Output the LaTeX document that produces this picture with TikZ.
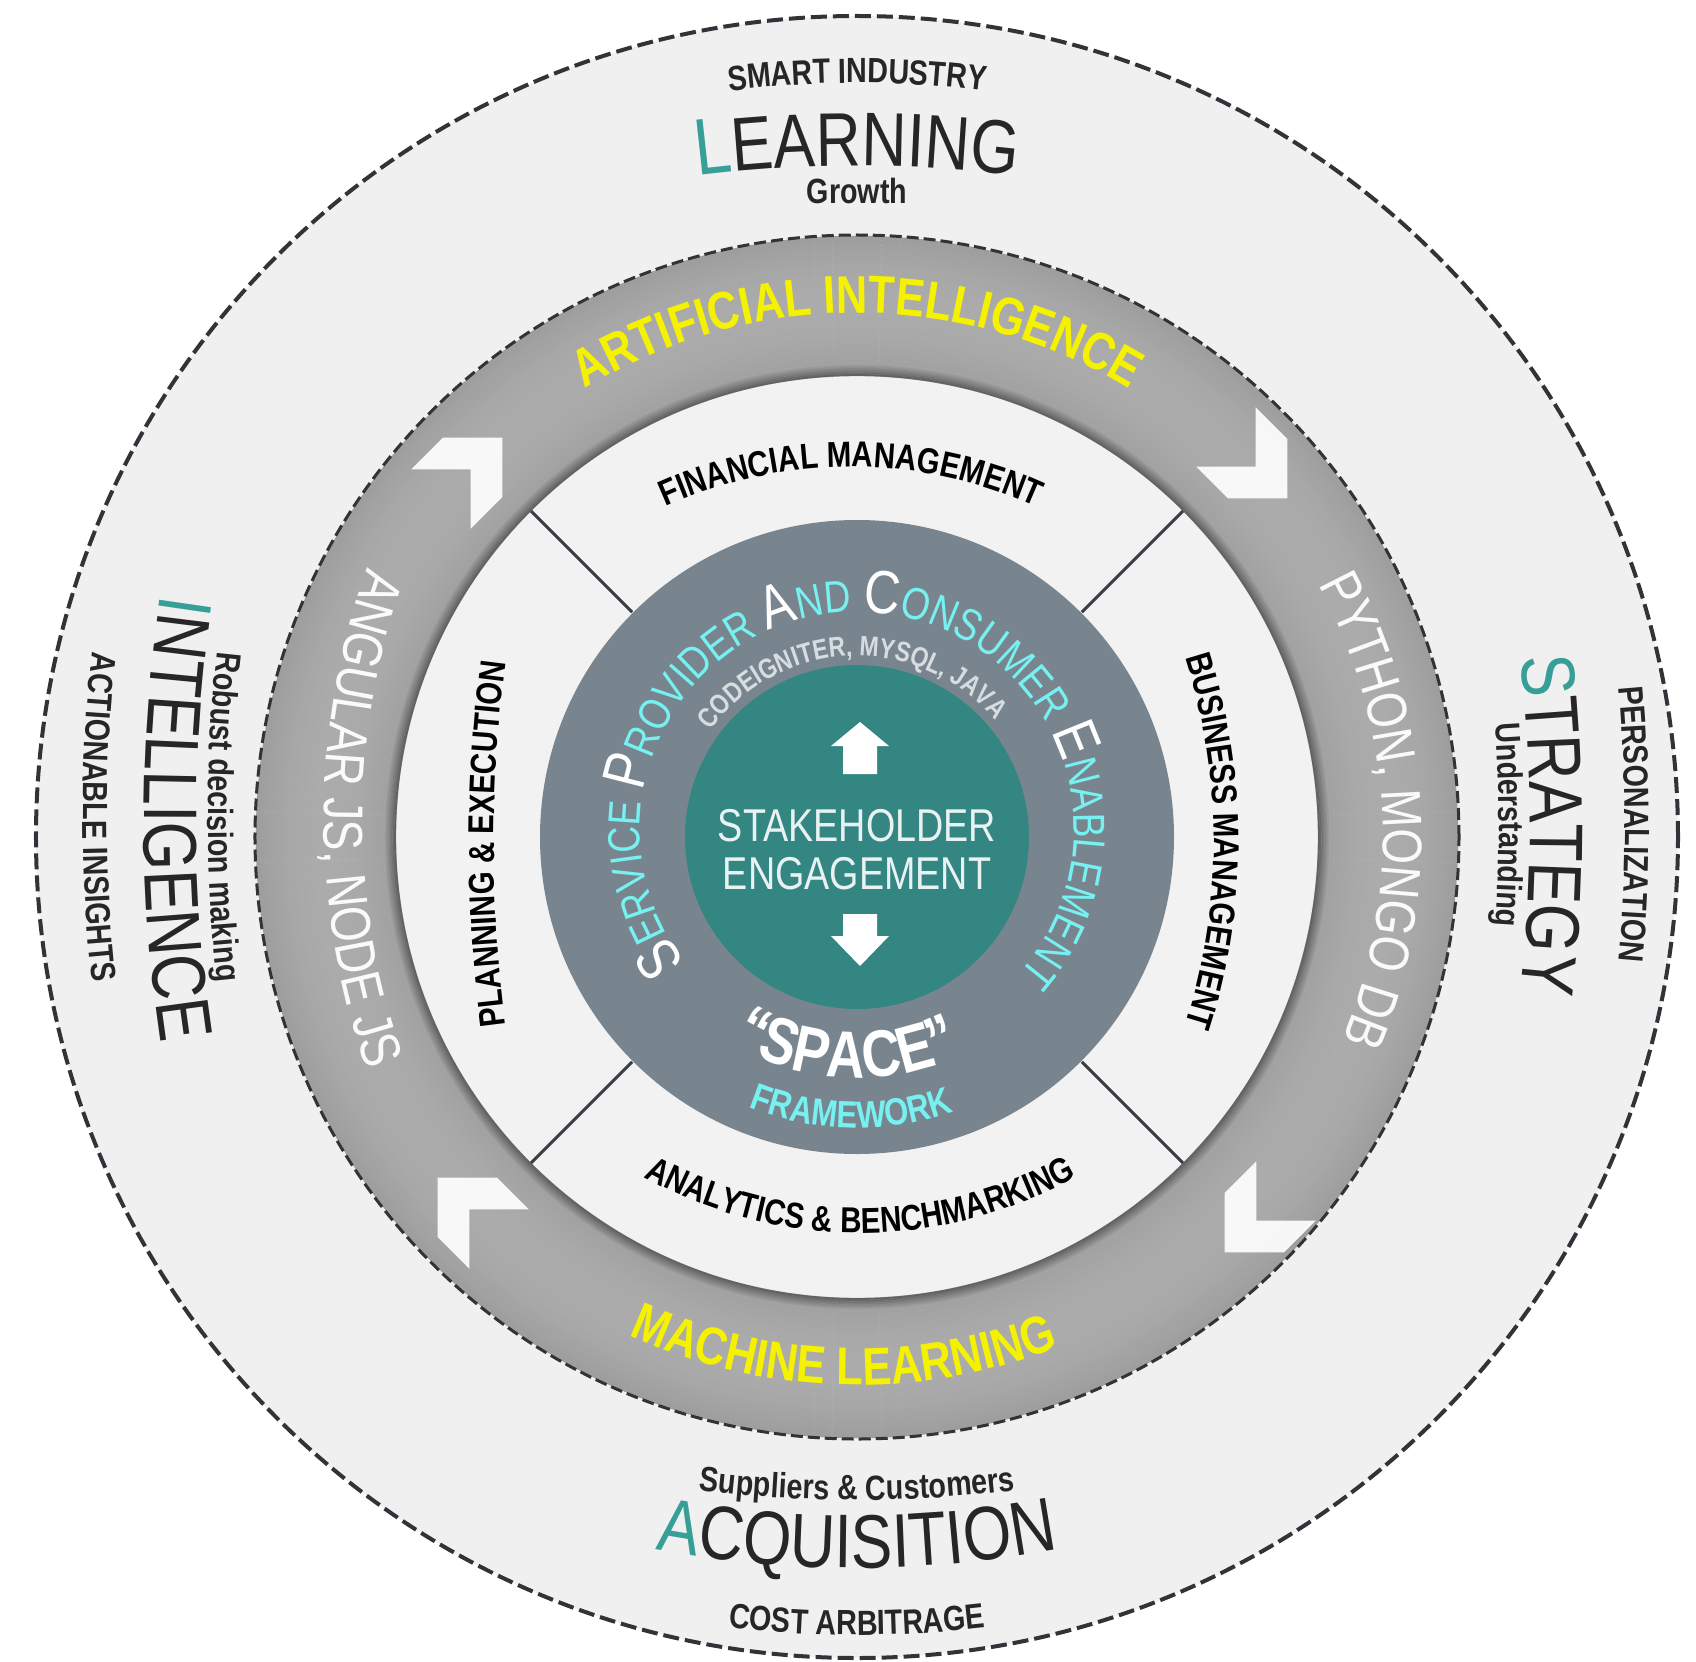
\documentclass[tikz,border=0pt]{standalone}
\usepackage{fontspec}
\setmainfont{Liberation Sans}
\newfontfamily\nsf[FakeStretch=0.82]{Liberation Sans}
\usetikzlibrary{decorations.text}
\definecolor{bgband}{RGB}{240,240,240}
\definecolor{whiteband}{RGB}{242,242,242}
\definecolor{dashc}{RGB}{48,52,56}
\definecolor{linec}{RGB}{58,62,68}
\definecolor{slate}{RGB}{121,133,142}
\definecolor{tealc}{RGB}{52,134,131}
\definecolor{tealL}{RGB}{55,158,152}
\definecolor{cyanT}{RGB}{118,240,240}
\definecolor{yel}{RGB}{245,242,0}
\definecolor{dk}{RGB}{38,38,38}
\definecolor{ringtxt}{RGB}{250,250,250}
\definecolor{codec}{RGB}{214,220,224}
\definecolor{stk}{RGB}{232,242,242}
\newcommand\fsmall{\nsf\bfseries\fontsize{17.5}{21}\selectfont\color{dk}}
\newcommand\fT{\nsf\fontsize{38}{44}\selectfont\color{tealL}}
\newcommand\fD{\nsf\fontsize{38}{44}\selectfont\color{dk}}
\newcommand\fband{\nsf\bfseries\fontsize{18}{22}\selectfont\color{black}}
\newcommand\fyel{\nsf\bfseries\fontsize{26.5}{30}\selectfont\color{yel}}
\newcommand\fring{\nsf\fontsize{28}{32}\selectfont\color{ringtxt}}
\newcommand\spBig{\nsf\fontsize{30.5}{35}\selectfont\color{white}}
\newcommand\spSml{\nsf\fontsize{22.5}{27}\selectfont\color{cyanT}}
\newcommand\arctext[6]{\path[shift={#1},decorate,decoration={text along path,text align=center,text={|#5|#6}}] (#3:#2) arc[start angle=#3,end angle=#4,radius=#2];}
\tikzset{chev/.style={fill=white,fill opacity=0.92}}
\newcommand\chevron[3]{\fill[chev,shift={(#1,#2)},rotate=#3] (43,0) -- (1,42) -- (-44,42) -- (-2,0) -- (-44,-42) -- (1,-42) -- cycle;}
\begin{document}
\begin{tikzpicture}[x=0.5pt,y=0.5pt]
\useasboundingbox (-857,-824) rectangle (839,837);
\fill[white] (-857,-824) rectangle (839,837);
% outer band
\fill[bgband] (0,0) circle[radius=821];
\draw[dashc,line width=2pt,dash pattern=on 8pt off 3pt] (0,0) circle[radius=821];
% white band
\fill[whiteband] (0,0) circle[radius=461];
% gray ring
\foreach \k in {0,...,34}{
  \pgfmathsetmacro\rr{463+4*\k}
  \pgfmathsetmacro\tq{(\rr-532)/70}
  \pgfmathsetmacro\gv{0.67-0.055*\tq*\tq}
  \definecolor{rc}{gray}{\gv}
  \draw[rc,line width=2.2pt] (0,0) circle[radius=\rr];
}
\foreach \k in {0,...,7}{
  \pgfmathsetmacro\rr{462+1.6*\k}
  \pgfmathsetmacro\gv{0.38+0.26*(\k/7)}
  \definecolor{rc}{gray}{\gv}
  \draw[rc,line width=0.9pt] (0,0) circle[radius=\rr];
}
\draw[dashc,line width=1.5pt,dash pattern=on 6pt off 2.5pt] (0,0) circle[radius=602];
% diagonal separators
\foreach \a in {45,135,225,315} \draw[linec,line width=1.5pt] (\a:318) -- (\a:461);
% slate and teal discs
\fill[slate] (0,0) circle[radius=317];
\fill[tealc] (0,0) circle[radius=172];
% chevrons
\chevron{-385}{369}{45}
\chevron{400}{369}{-45}
\chevron{398}{-385}{-135}
\chevron{-389}{-371}{135}
% arrows
\fill[white] (3,115) -- (32,91) -- (20,91) -- (20,63) -- (-14,63) -- (-14,91) -- (-26,91) -- cycle;
\fill[white] (3,-129) -- (32,-99) -- (20,-99) -- (20,-77) -- (-14,-77) -- (-14,-99) -- (-26,-99) -- cycle;
\node[anchor=base,text=stk,font=\nsf\fontsize{23}{27}\selectfont,inner sep=0pt] (stake) at (0,-4) {STAKEHOLDER};
\node[anchor=base,text=stk,font=\nsf\fontsize{23}{27}\selectfont,inner sep=0pt] (engage) at (0,-52) {ENGAGEMENT};
% outer texts
\arctext{(0,-246)}{1000}{100}{80}{\fsmall}{SMART INDUSTRY}
\arctext{(0,-629)}{1300}{100}{80}{\nsf\fontsize{40}{46}\selectfont\color{tealL}}{L|\fD|EARNING}
\node[anchor=base,text=dk,font=\nsf\bfseries\fontsize{17.5}{21}\selectfont,inner sep=0pt] (growth) at (0,633) {Growth};
\arctext{(0,637)}{1300}{260}{280}{\fsmall}{Suppliers {\&} Customers}
\arctext{(0,369)}{1100}{257}{283}{\fT}{A|\fD|CQUISITION}
\arctext{(0,302)}{1100}{258}{282}{\fsmall}{COST ARBITRAGE}
\arctext{(726,20)}{1500}{170}{190}{\fsmall}{ACTIONABLE INSIGHTS}
\arctext{(787,18)}{1500}{170}{190}{\fT}{I|\fD|NTELLIGENCE}
\arctext{(851,20)}{1500}{170}{190}{\fsmall}{Robust decision making}
\arctext{(-732,13)}{1500}{10}{-10}{\fsmall}{PERSONALIZATION}
\arctext{(-827,12)}{1500}{10}{-10}{\fT}{S|\fD|TRATEGY}
\arctext{(-858,12)}{1500}{10}{-10}{\fsmall}{Understanding}
% white band texts
\arctext{(-6,-80)}{450}{118}{62}{\fband}{FINANCIAL MANAGEMENT}
\arctext{(1037,-7)}{1400}{190}{170}{\fband}{PLANNING {\&} EXECUTION}
\arctext{(-243,-4)}{600}{20}{-20}{\fband}{BUSINESS MANAGEMENT}
\arctext{(3,51)}{447}{236}{304}{\fband}{ANALYTICS {\&} BENCHMARKING}
% ring texts
\arctext{(0,0)}{524}{130}{50}{\fyel}{ARTIFICIAL INTELLIGENCE}
\arctext{(0,0)}{548}{228.5}{308.5}{\fyel}{MACHINE LEARNING}
\arctext{(217,18)}{750}{158}{202}{\fring}{ANGULAR JS, NODE JS}
\arctext{(0,0)}{526}{38}{-32}{\fring}{PYTHON, MONGO DB}
% slate texts
\arctext{(0,8)}{217}{233}{-57}{\spBig}{S|\spSml|ERVICE |\spBig|P|\spSml|ROVIDER |\spBig|A|\spSml|ND |\spBig|C|\spSml|ONSUMER |\spBig|E|\spSml|NABLEMENT}
\arctext{(0,0)}{181}{152}{32}{\nsf\bfseries\fontsize{14}{17}\selectfont\color{codec}}{CODEIGNITER, MYSQL, JAVA}
\arctext{(0,0)}{241}{217.4}{317.4}{\nsf\bfseries\fontsize{33}{37}\selectfont\color{white}}{“SPACE”}
\arctext{(0,0)}{291}{228.8}{308.8}{\nsf\bfseries\fontsize{19}{22}\selectfont\color{cyanT}}{FRAMEWORK}
\end{tikzpicture}
\end{document}
